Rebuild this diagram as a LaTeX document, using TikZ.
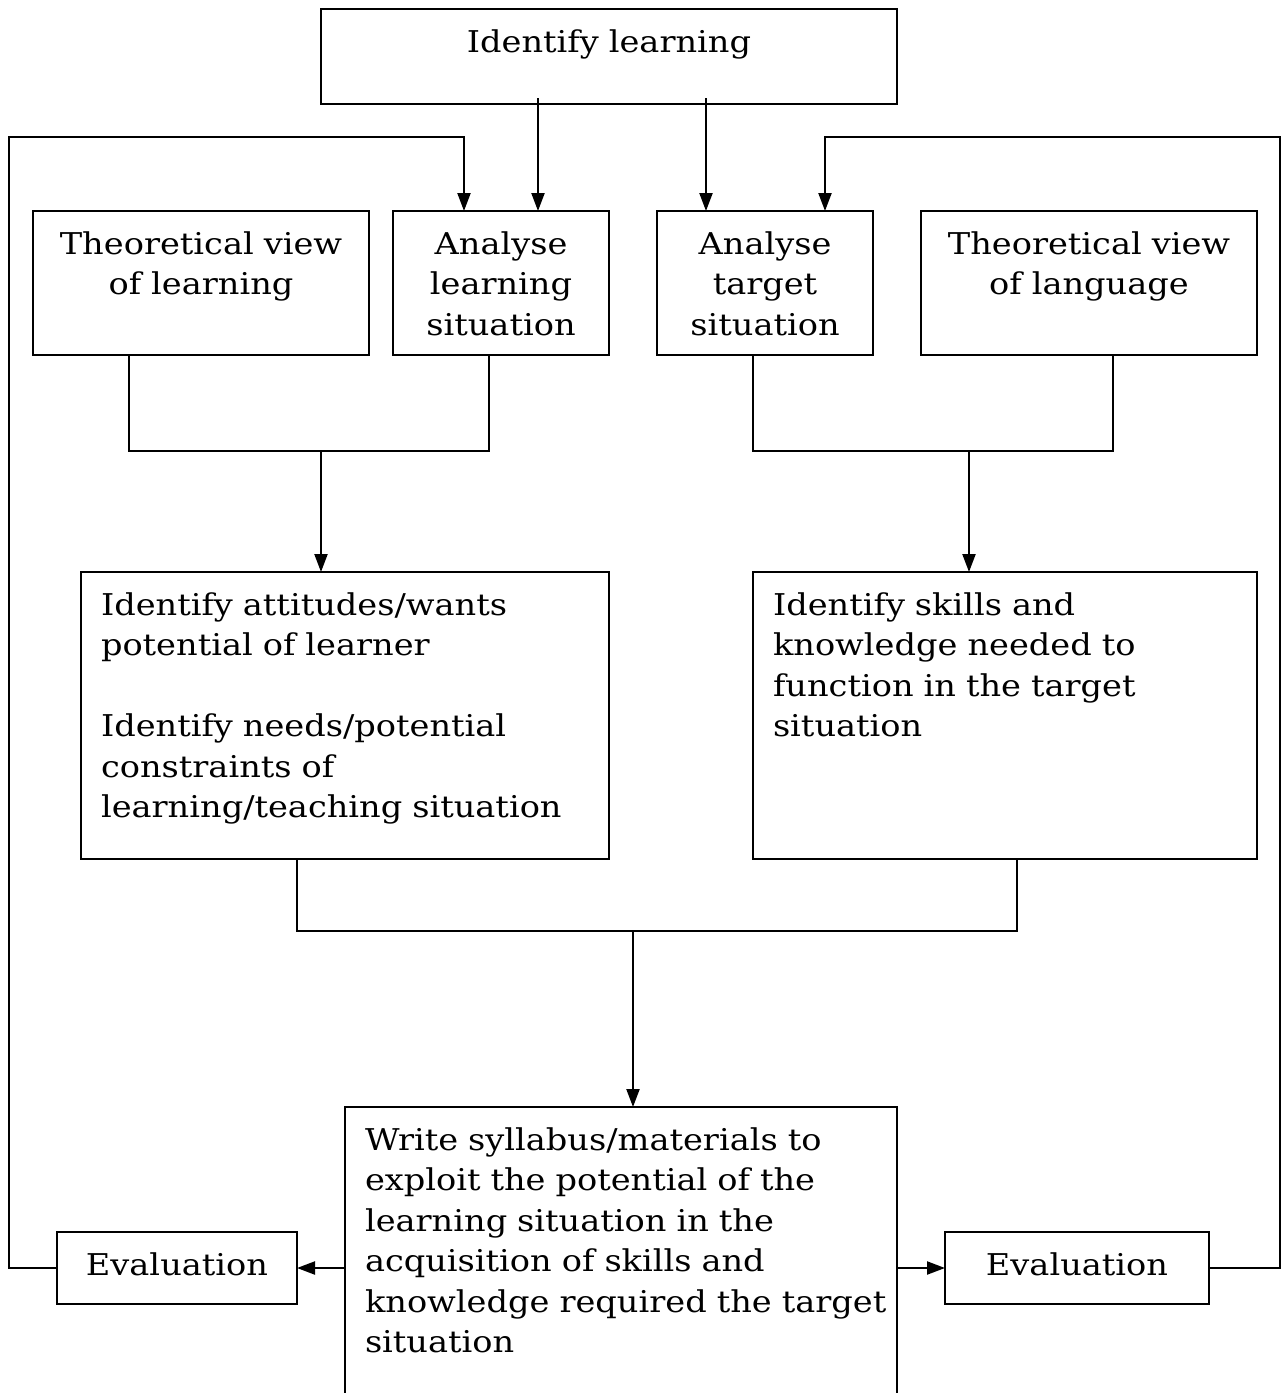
\documentclass[tikz,border=0pt]{standalone}
\usepackage{fontspec}
\setmainfont{DejaVu Serif}[FakeStretch=1.12]
\usetikzlibrary{arrows.meta,positioning}

\begin{document}
\begin{tikzpicture}[x=1pt,y=-1pt,>={Triangle[length=18pt,width=13pt]},line width=2.2pt,
		box/.style={draw,outer sep=0pt,inner xsep=20pt,inner ysep=0pt,text height=43pt,font={\fontsize{30}{40.5}\selectfont}},
		topbox/.style={box,align=center,text width=#1,text depth=101pt},
		evalbox/.style={box,align=center,anchor=north west,text width=#1,text depth=29pt}]
	\clip (0,0) rectangle (1282,1393);

	\node[box,align=center,anchor=north,text width=536pt,text depth=52pt] (learn) at (609,9) {Identify learning};
	\node[topbox=296pt,anchor=north west] (thl) at (33,211) {Theoretical view\\of learning};
	\node[topbox=176pt,right=24pt of thl] (anl) {Analyse\\learning\\situation};
	\node[topbox=176pt,right=48pt of anl] (ant) {Analyse\\target\\situation};
	\node[topbox=296pt,right=48pt of ant] (thg) {Theoretical view\\of language};

	\node[box,align=left,anchor=north west,text width=488pt,text depth=244pt] (att) at (81,572)
		{Identify attitudes/wants\\potential of learner\\[40.5pt]Identify needs/potential\\constraints of\\learning/teaching situation};
	\node[box,align=left,anchor=north west,text width=464pt,text depth=244pt] (skl) at (753,572)
		{Identify skills and\\knowledge needed to\\function in the target\\situation};
	\node[box,align=left,anchor=north west,text width=512pt,text depth=250pt] (wrt) at (345,1107)
		{Write syllabus/materials to\\exploit the potential of the\\learning situation in the\\acquisition of skills and\\\mbox{knowledge required the target}\\situation};

	\node[evalbox=200pt] (evl) at (57,1232) {Evaluation};
	\node[evalbox=224pt] (evr) at (945,1232) {Evaluation};

	\coordinate (jl) at (321,451);
	\coordinate (jr) at (969,451);
	\coordinate (jb) at (633,931);
	\coordinate (fl) at (9,137);
	\coordinate (fr) at (1280,137);

	% from the top box
	\draw[->] ([xshift=37pt,yshift=6pt]anl.north |- learn.south) -- ([xshift=37pt]anl.north);
	\draw[->] ([xshift=-59pt,yshift=6pt]ant.north |- learn.south) -- ([xshift=-59pt]ant.north);

	% joins
	\draw ([xshift=-72pt]thl.south) |- ([xshift=-12pt]anl.south |- jl) -- ([xshift=-12pt]anl.south);
	\draw[->] (jl) -- (jl |- att.north);
	\draw ([xshift=-12pt]ant.south) |- ([xshift=24pt]thg.south |- jr) -- ([xshift=24pt]thg.south);
	\draw[->] (jr) -- (jr |- skl.north);
	\draw ([xshift=-48pt]att.south) |- ([xshift=12pt]skl.south |- jb) -- ([xshift=12pt]skl.south);
	\draw[->] (jb) -- (jb |- wrt.north);

	% evaluation and feedback
	\draw[->] (wrt.west |- evl) -- (evl.east);
	\draw[->] (wrt.east |- evr) -- (evr.west);
	\draw[->] (evl.west) -| (fl) -| ([xshift=-37pt]anl.north);
	\draw[->] (evr.east) -| (fr) -| ([xshift=60pt]ant.north);
\end{tikzpicture}
\end{document}
